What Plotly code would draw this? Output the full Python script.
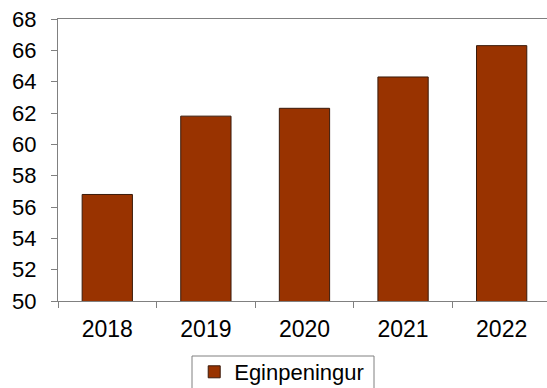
import plotly.graph_objects as go

years = ["2018", "2019", "2020", "2021", "2022"]
values = [56.8, 61.8, 62.3, 64.3, 66.3]
series_name = "Eginpeningur"
y_ticks = list(range(50, 70, 2))

W, H = 547, 388
M_L, M_T, M_B = 58, 19, 87

fig = go.Figure(
    go.Bar(
        x=years,
        y=values,
        name=series_name,
        marker=dict(color="#993300", line=dict(color="#3a1a0a", width=1)),
        showlegend=True,
    )
)

axis_color = "#808080"

# legend frame, drawn as a paper-space rectangle so it can run off the bottom edge
plot_w = W - M_L
plot_h = H - M_T - M_B
def px_to_paper_x(px):
    return (px - M_L) / plot_w
def px_to_paper_y(py):
    return (H - M_B - py) / plot_h

fig.add_shape(
    type="rect",
    xref="paper", yref="paper",
    x0=px_to_paper_x(192), x1=px_to_paper_x(374),
    y0=px_to_paper_y(356), y1=px_to_paper_y(392),
    line=dict(color=axis_color, width=1),
    fillcolor="rgba(0,0,0,0)",
    layer="above",
)

fig.update_layout(
    width=W,
    height=H,
    margin=dict(l=M_L, r=0, t=M_T, b=M_B),
    paper_bgcolor="white",
    plot_bgcolor="white",
    font=dict(family="Liberation Sans, Arial, sans-serif", color="#000000"),
    bargap=0.49,
    showlegend=True,
    legend=dict(
        orientation="h",
        xref="container",
        yref="container",
        x=0.515,
        xanchor="center",
        y=1 - 351 / H,
        yanchor="top",
        borderwidth=0,
        bgcolor="rgba(0,0,0,0)",
        font=dict(size=22),
        itemwidth=30,
    ),
)
fig.update_xaxes(
    range=[-0.5, 4.46],
    showline=True,
    linecolor=axis_color,
    linewidth=1,
    mirror=True,
    ticks="outside",
    tickson="boundaries",
    ticklen=6,
    tickcolor=axis_color,
    tickfont=dict(size=23),
    ticklabelstandoff=7,
    showgrid=False,
    fixedrange=True,
)
fig.update_yaxes(
    range=[50, 68],
    tickvals=y_ticks,
    showline=True,
    linecolor=axis_color,
    linewidth=1,
    mirror=False,
    ticks="outside",
    ticklen=6,
    tickcolor=axis_color,
    tickfont=dict(size=22),
    ticklabelstandoff=10,
    showgrid=False,
    zeroline=False,
    fixedrange=True,
)

fig.write_html("out.html")
